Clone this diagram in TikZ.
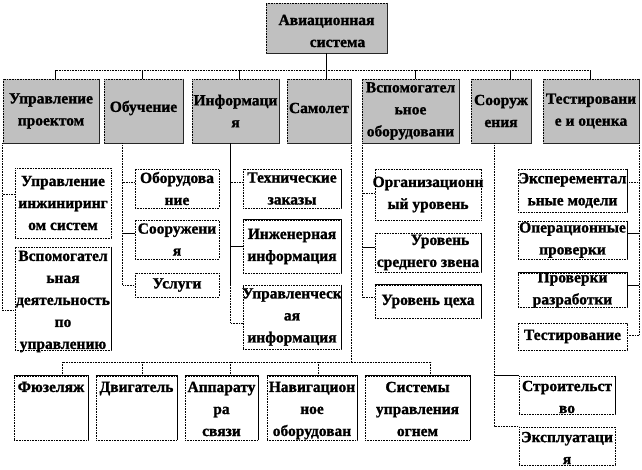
\documentclass[tikz,border=0pt]{standalone}
\usepackage{fontspec}
\setmainfont{Liberation Serif}[BoldFont={Liberation Serif Bold}, BoldFeatures={FakeBold=1.2}]
\usetikzlibrary{fit}
\definecolor{boxgray}{HTML}{C0C0C0}
\tikzset{
  dl/.style={line width=0.8pt, dash pattern=on 0.8pt off 0.8pt},
  sl/.style={line width=0.8pt},
  gbox/.style={draw, fill=boxgray, line width=0.8pt, dash pattern=on 0.8pt off 0.8pt, inner sep=0pt},
  wbox/.style={draw, fill=white, line width=0.8pt, dash pattern=on 0.8pt off 0.8pt, inner sep=0pt},
  shd/.style={line width=1.3pt, black!85},
  edge/.style={line width=0.8pt},
  txt/.style={font=\fontsize{15.5}{22}\selectfont\bfseries, align=center, inner sep=0pt},
}
\begin{document}
\begin{tikzpicture}[x=1pt,y=-1pt]
\useasboundingbox (0,0) rectangle (642,469);
% ---------- top
\node[gbox, fit={(266,3) (387,53)}] (av) {};
% ---------- level 1
\node[gbox, fit={(3,79) (99,143)}] (upr) {};
\node[gbox, fit={(104,79) (183,143)}] (obu) {};
\node[gbox, fit={(192,79) (279,143)}] (inf) {};
\node[gbox, fit={(287,79) (351,143)}] (sam) {};
\node[gbox, fit={(362,79) (459,143)}] (vsp) {};
\node[gbox, fit={(471,79) (531,143)}] (soo) {};
\node[gbox, fit={(543,79) (639,143)}] (tes) {};
\foreach \n in {av,upr,obu,inf,sam,vsp,soo,tes}
  \draw[shd] (\n.north east) -- (\n.south east) -- (\n.south west);
% ---------- level 2
\node[wbox, fit={(15,168) (111,238)}] (uis) {};
\node[wbox, fit={(15,247) (111,350)}] (vdu) {};
\node[wbox, fit={(135,169) (219,208)}] (obo) {};
\node[wbox, fit={(135,220) (219,259)}] (soo2) {};
\node[wbox, fit={(135,273) (219,297)}] (usl) {};
\node[wbox, fit={(243,169) (341,208)}] (tz) {};
\node[wbox, fit={(243,220) (341,273)}] (ii) {};
\node[wbox, fit={(243,285) (341,349)}] (ui) {};
\node[wbox, fit={(375,169) (481,220)}] (org) {};
\node[wbox, fit={(375,233) (481,272)}] (sred) {};
\node[wbox, fit={(375,285) (481,318)}] (tseh) {};
\node[wbox, fit={(518,169) (627,212)}] (exp) {};
\node[wbox, fit={(518,221) (627,259)}] (oper) {};
\node[wbox, fit={(518,273) (627,307)}] (prov) {};
\node[wbox, fit={(518,323) (627,350)}] (test) {};
\node[wbox, fit={(519,376) (615,414)}] (stroi) {};
\node[wbox, fit={(519,427) (615,465)}] (expl) {};
% ---------- level 3
\node[wbox, fit={(14,376) (88,440)}] (fuz) {};
\node[wbox, fit={(96,376) (177,440)}] (dvi) {};
\node[wbox, fit={(185,376) (258,440)}] (app) {};
\node[wbox, fit={(267,376) (357,440)}] (nav) {};
\node[wbox, fit={(365,376) (470,440)}] (sys) {};
\foreach \n in {fuz,dvi,app,nav,sys,ii,tseh,prov}
  \draw[edge] (\n.north west) -- (\n.north east) -- (\n.south east);
\foreach \n in {vdu,ui,tz,sred,exp,oper,stroi}
  \draw[edge] (\n.north east) -- (\n.south east);
% ---------- top bus
\coordinate (bus) at (0,70);
\coordinate (d-upr) at ([xshift=53pt]upr.north west);
\coordinate (d-obu) at ([xshift=39pt]obu.north west);
\coordinate (d-inf) at ([xshift=48pt]inf.north west);
\coordinate (d-sam) at ([xshift=40pt]sam.north west);
\coordinate (d-vsp) at ([xshift=54pt]vsp.north west);
\coordinate (d-soo) at ([xshift=40pt]soo.north west);
\coordinate (d-tes) at ([xshift=48pt]tes.north west);
\draw[sl] (av.south) -- (av.south |- bus);
\draw[dl] (d-upr |- bus) -- (d-tes |- bus);
\foreach \d in {d-upr,d-obu,d-inf,d-sam,d-vsp,d-soo,d-tes}
  \draw[sl] (\d) -- (\d |- bus);
% ---------- spines
\coordinate (s-upr) at (upr.south west);
\coordinate (s-obu) at ([xshift=19pt]obu.south west);
\coordinate (s-inf) at ([xshift=39pt]inf.south west);
\coordinate (s-sam) at (sam.south east);
\coordinate (s-vsp) at ([xshift=1pt]vsp.south west);
\coordinate (s-soo) at ([xshift=24pt]soo.south west);
\coordinate (s-tes) at (tes.south east);
% Управление проектом
\coordinate (b-uis) at ([yshift=9pt]uis.west);
\coordinate (b-vdu) at ([yshift=-12pt]vdu.west);
\draw[dl] (s-upr) -- (s-upr |- b-vdu) -- (b-vdu);
\draw[dl] (b-uis) -- (b-uis -| s-upr);
% Обучение
\coordinate (b-obo) at ([yshift=6.5pt]obo.west);
\coordinate (b-soo2) at ([yshift=6.5pt]soo2.west);
\coordinate (b-usl) at (usl.west);
\draw[dl] (s-obu) -- (s-obu |- b-usl) -- (b-usl);
\draw[dl] (b-obo) -- (b-obo -| s-obu);
\draw[sl] (b-soo2) -- (b-soo2 -| s-obu);
% Информация
\coordinate (b-tz) at ([yshift=6.5pt]tz.west);
\coordinate (b-ii) at (ii.west);
\coordinate (b-ui) at ([yshift=-6pt]ui.west);
\draw[sl] (s-inf) -- (s-inf |- usl.west);
\draw[dl] (s-inf |- usl.west) -- (s-inf |- b-ui) -- (b-ui);
\draw[dl] (b-tz) -- (b-tz -| s-inf);
\draw[sl] (b-ii) -- (b-ii -| s-inf);
% Самолет
\coordinate (bus2) at (0,362);
\coordinate (t-fuz) at ([xshift=49pt]fuz.north west);
\coordinate (t-dvi) at ([xshift=47pt]dvi.north west);
\coordinate (t-app) at ([xshift=46pt]app.north west);
\coordinate (t-nav) at ([xshift=52pt]nav.north west);
\coordinate (t-sys) at ([xshift=66pt]sys.north west);
\draw[dl] (s-sam) -- (s-sam |- bus2);
\draw[dl] (t-fuz |- bus2) -- (t-sys |- bus2);
\foreach \t in {t-fuz,t-dvi,t-app,t-nav,t-sys}
  \draw[dl] (\t) -- (\t |- bus2);
% Вспомогательное оборудование
\coordinate (b-org) at ([yshift=1.5pt]org.west);
\coordinate (b-sred) at ([yshift=5.5pt]sred.west);
\coordinate (b-tseh) at ([yshift=4.5pt]tseh.west);
\draw[dl] (s-vsp) -- (s-vsp |- b-tseh) -- (b-tseh);
\draw[dl] (b-org) -- (b-org -| s-vsp);
\draw[sl] (b-sred) -- (b-sred -| s-vsp);
% Сооружения
\coordinate (b-stroi) at (stroi.north west);
\coordinate (b-expl) at (expl.north west);
\draw[dl] (s-soo) -- (s-soo |- b-expl) -- (b-expl);
\draw[sl] (b-stroi) -- (b-stroi -| s-soo);
% Тестирование и оценка
\coordinate (b-exp) at ([yshift=8.5pt]exp.east);
\coordinate (b-oper) at ([yshift=7pt]oper.east);
\coordinate (b-prov) at ([yshift=5pt]prov.east);
\coordinate (b-test) at ([yshift=1.5pt]test.east);
\draw[dl] (s-tes) -- (s-tes |- b-test) -- (b-test);
\draw[dl] (b-exp) -- (b-exp -| s-tes);
\draw[sl] (b-oper) -- (b-oper -| s-tes);
\draw[sl] (b-prov) -- (b-prov -| s-tes);
% ---------- texts
\node[txt] (av-t) at ([yshift=-3pt]av.center) {Авиационная\\\hspace*{22pt}система};
\node[txt] (upr-t) at (upr.center) {Управление\\проектом};
\node[txt] (obu-t) at ([yshift=3pt]obu.center) {Обучение};
\node[txt] (inf-t) at (inf.center) {Информаци\\я};
\node[txt] (sam-t) at ([yshift=3pt]sam.center) {Самолет};
\node[txt] (vsp-t) at (vsp.center) {Вспомогател\\ьное\\оборудовани};
\node[txt] (soo-t) at (soo.center) {Сооруж\\ения};
\node[txt] (tes-t) at (tes.center) {Тестировани\\е и оценка};
\node[txt] (uis-t) at (uis.center) {Управление\\инжиниринг\\ом систем};
\node[txt] (vdu-t) at ([yshift=-3pt]vdu.center) {Вспомогател\\ьная\\деятельность\\по\\управлению};
\node[txt] (obo-t) at (obo.center) {Оборудова\\ние};
\node[txt] (soo2-t) at (soo2.center) {Сооружени\\я};
\node[txt] (usl-t) at (usl.center) {Услуги};
\node[txt] (tz-t) at (tz.center) {Технические\\заказы};
\node[txt] (ii-t) at (ii.center) {Инженерная\\информация};
\node[txt] (ui-t) at (ui.center) {Управленческ\\ая\\информация};
\node[txt] (org-t) at (org.center) {Организационн\\ый уровень};
\node[txt] (sred-t) at (sred.center) {\hspace*{24pt}Уровень\\среднего звена};
\node[txt] (tseh-t) at (tseh.center) {Уровень цеха};
\node[txt] (exp-t) at (exp.center) {Эксперементал\\ьные модели};
\node[txt] (oper-t) at (oper.center) {Операционные\\проверки};
\node[txt] (prov-t) at (prov.center) {Проверки\\разработки};
\node[txt] (test-t) at (test.center) {Тестирование};
\node[txt] (stroi-t) at ([yshift=-2pt]stroi.center) {Строительст\\во};
\node[txt] (expl-t) at ([yshift=-2pt]expl.center) {Эксплуатаци\\я};
\node[txt, anchor=north] (fuz-t) at ([yshift=-6pt]fuz.north) {Фюзеляж};
\node[txt, anchor=north] (dvi-t) at ([yshift=-6pt]dvi.north) {Двигатель};
\node[txt, anchor=north] (app-t) at ([yshift=-6pt]app.north) {Аппарату\\ра\\связи};
\node[txt, anchor=north] (nav-t) at ([yshift=-6pt]nav.north) {Навигацион\\ное\\оборудован};
\node[txt, anchor=north] (sys-t) at ([yshift=-6pt]sys.north) {Системы\\управления\\огнем};
\end{tikzpicture}
\end{document}
